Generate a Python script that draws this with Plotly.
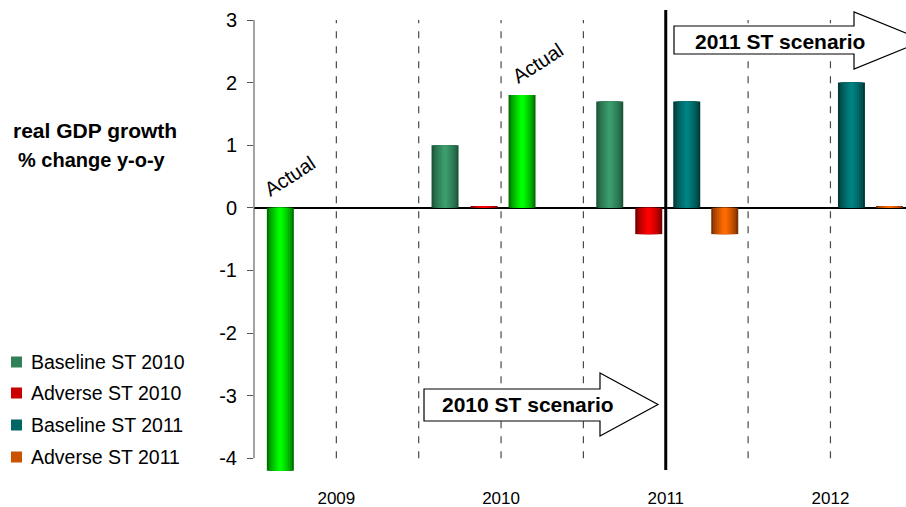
import plotly.graph_objects as go

# ---------------- data ----------------
categories = ["2009", "2010", "2011", "2012"]
baseline_st_2010 = [-4.2, 1.0, 1.7, None]
adverse_st_2010 = [None, 0.02, -0.42, None]
baseline_st_2011 = [None, 1.8, 1.7, 2.0]
adverse_st_2011 = [None, None, -0.42, 0.02]
actual_b2010 = [True, False, False, False]   # 2009 outturn shown in Baseline ST 2010 slot
actual_b2011 = [False, True, False, False]   # 2010 outturn shown in Baseline ST 2011 slot
y_ticks = [-4, -3, -2, -1, 0, 1, 2, 3]
legend_names = ["Baseline ST 2010", "Adverse ST 2010", "Baseline ST 2011", "Adverse ST 2011"]

# ---------------- styles ----------------
FONT = "Liberation Sans, Arial, sans-serif"
W, H = 906, 507
L, R, T, B = 254, 906, 20, 472
CAT_PX = 164.7
x_range = [-0.5, -0.5 + (R - L) / CAT_PX]
y_range = [-4.22, 3]

# (edge colour, centre colour)
col_b10 = ("#1d553a", "#3c9c6c")
col_a10 = ("#7a0000", "#ff0000")
col_b11 = ("#003a3a", "#008282")
col_a11 = ("#7a3000", "#ff6a00")
col_act = ("#007000", "#00ff00")

bar_w = 27 / CAT_PX
offsets = [-56 / CAT_PX, -17 / CAT_PX, 21 / CAT_PX, 59 / CAT_PX]
N_LAYERS = 7


def mix(c1, c2, t):
    a = [int(c1[i:i + 2], 16) for i in (1, 3, 5)]
    b = [int(c2[i:i + 2], 16) for i in (1, 3, 5)]
    return "#" + "".join(f"{round(a[k] + (b[k] - a[k]) * t):02x}" for k in range(3))


def px2paper_x(px):
    return (px - L) / (R - L)


def px2paper_y(py):
    return (B - py) / (B - T)


fig = go.Figure()

series = [
    (baseline_st_2010, col_b10, actual_b2010, offsets[0]),
    (adverse_st_2010, col_a10, [False] * 4, offsets[1]),
    (baseline_st_2011, col_b11, actual_b2011, offsets[2]),
    (adverse_st_2011, col_a11, [False] * 4, offsets[3]),
]

for vals, cols, act, off in series:
    for k in range(N_LAYERS):
        frac = 1 - k / N_LAYERS
        t = k / (N_LAYERS - 1)
        colors = []
        for a in act:
            c = col_act if a else cols
            colors.append(mix(c[0], c[1], t ** 0.7))
        w = bar_w * frac
        fig.add_trace(go.Bar(
            x=categories, y=vals, width=w, offset=off - w / 2,
            marker=dict(color=colors, line=dict(width=0)),
            showlegend=False, hoverinfo="skip",
        ))

shapes = []
# dashed separators
for xv in [0, 0.5, 1, 1.5, 2.5, 3]:
    shapes.append(dict(type="line", xref="x", yref="y", x0=xv, x1=xv, y0=-4, y1=3,
                       line=dict(color="#4a4a4a", width=1.2, dash="7px,8px"), layer="below"))
# y axis line
shapes.append(dict(type="line", xref="paper", yref="y", x0=0, x1=0, y0=-4, y1=3,
                   line=dict(color="#666666", width=1.2)))
# solid 2011 divider
shapes.append(dict(type="line", xref="x", yref="paper", x0=2, x1=2,
                   y0=px2paper_y(470), y1=px2paper_y(10),
                   line=dict(color="black", width=3)))


def arrow(xl, yt, yb, xh, yht, yhb, xtip):
    ym = (yht + yhb) / 2
    pts = [(xl, yt), (xh, yt), (xh, yht), (xtip, ym), (xh, yhb), (xh, yb), (xl, yb)]
    p = "M " + " L ".join(f"{px2paper_x(a):.5f},{px2paper_y(b):.5f}" for a, b in pts) + " Z"
    return dict(type="path", xref="paper", yref="paper", path=p,
                fillcolor="white", line=dict(color="black", width=1.2))


shapes.append(arrow(674, 26, 54, 854, 12, 69, 924))
shapes.append(arrow(424, 389, 421, 600, 373, 436, 658))

# legend swatches
leg_y = [362, 393, 425, 457]
leg_cols = [col_b10, col_a10, col_b11, col_a11]
for yy, c in zip(leg_y, leg_cols):
    shapes.append(dict(type="rect", xref="paper", yref="paper",
                       x0=px2paper_x(11), x1=px2paper_x(22),
                       y0=px2paper_y(yy + 5.5), y1=px2paper_y(yy - 5.5),
                       fillcolor=mix(c[0], c[1], 0.6), line=dict(width=0)))

annotations = []
for yy, name in zip(leg_y, legend_names):
    annotations.append(dict(x=px2paper_x(29), y=px2paper_y(yy), xref="paper", yref="paper",
                            text=name, showarrow=False, xanchor="left", yanchor="middle",
                            font=dict(family=FONT, size=19.5, color="black")))

annotations.append(dict(x=px2paper_x(95), y=px2paper_y(130), xref="paper", yref="paper",
                        text="<b>real GDP growth</b>", showarrow=False,
                        xanchor="center", yanchor="middle",
                        font=dict(family=FONT, size=21, color="black")))
annotations.append(dict(x=px2paper_x(92), y=px2paper_y(160), xref="paper", yref="paper",
                        text="<b>% change y-o-y</b>", showarrow=False,
                        xanchor="center", yanchor="middle",
                        font=dict(family=FONT, size=20, color="black")))

for (ax, ay) in [(290, 176), (538, 63)]:
    annotations.append(dict(x=px2paper_x(ax), y=px2paper_y(ay), xref="paper", yref="paper",
                            text="Actual", showarrow=False, textangle=-33,
                            xanchor="center", yanchor="middle",
                            font=dict(family=FONT, size=20, color="black")))

annotations.append(dict(x=px2paper_x(780), y=px2paper_y(41), xref="paper", yref="paper",
                        text="<b>2011 ST scenario</b>", showarrow=False,
                        xanchor="center", yanchor="middle",
                        font=dict(family=FONT, size=21, color="black")))
annotations.append(dict(x=px2paper_x(528), y=px2paper_y(404), xref="paper", yref="paper",
                        text="<b>2010 ST scenario</b>", showarrow=False,
                        xanchor="center", yanchor="middle",
                        font=dict(family=FONT, size=21, color="black")))

fig.update_layout(
    width=W, height=H,
    margin=dict(l=L, r=W - R, t=T, b=H - B, pad=0),
    paper_bgcolor="white", plot_bgcolor="white",
    barmode="overlay",
    showlegend=False,
    shapes=shapes,
    annotations=annotations,
    font=dict(family=FONT, color="black"),
    xaxis=dict(type="category", range=x_range, showgrid=False, zeroline=False,
               showline=False, ticks="", tickfont=dict(size=17, family=FONT),
               ticklabelstandoff=14, fixedrange=True),
    yaxis=dict(range=y_range, tickvals=y_ticks, ticktext=[str(v) for v in y_ticks],
               showgrid=False, zeroline=True, zerolinecolor="black", zerolinewidth=1.5,
               showline=False, ticks="outside", ticklen=6, tickcolor="#555555",
               tickfont=dict(size=20, family=FONT), ticklabelstandoff=6, fixedrange=True),
)

fig.write_html("out.html")
